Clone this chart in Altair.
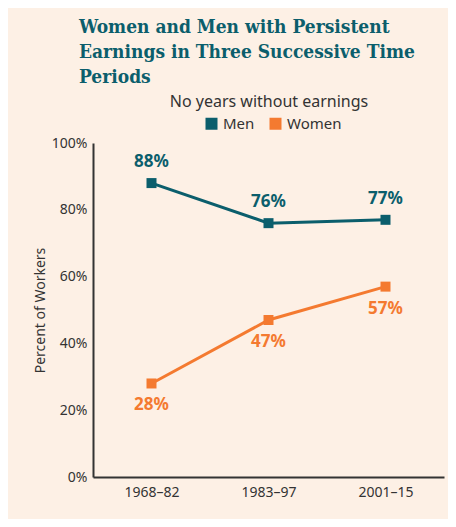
import altair as alt
import pandas as pd

periods = ["1968–82", "1983–97", "2001–15"]
men = [0.88, 0.76, 0.77]
women = [0.28, 0.47, 0.57]
series = ["Men", "Women"]
colors = ["#0b5e6c", "#f47a30"]
y_ticks = [0, 0.2, 0.4, 0.6, 0.8, 1.0]

rows = []
for p, m, w in zip(periods, men, women):
    rows.append({"period": p, "series": "Men", "value": m})
    rows.append({"period": p, "series": "Women", "value": w})
df = pd.DataFrame(rows)

FONT = "Noto Sans"
TEAL = colors[0]

x_enc = alt.X("period:N", sort=periods,
              scale=alt.Scale(type="point", padding=0.5),
              axis=alt.Axis(title=None, labelAngle=0, ticks=False, domainColor="#333",
                            domainWidth=2, labelFont=FONT, labelFontSize=14,
                            labelColor="#333", labelPadding=8, grid=False))
x_plain = alt.X("period:N", sort=periods, axis=None)
y_enc = alt.Y("value:Q", scale=alt.Scale(domain=[0, 1], nice=False),
              axis=alt.Axis(title="Percent of Workers", values=y_ticks, format=".0%",
                            ticks=False, domainColor="#333", domainWidth=2, grid=False,
                            labelFont=FONT, labelFontSize=14, labelColor="#333",
                            labelPadding=6, titleFont=FONT, titleFontSize=14,
                            titleFontWeight="normal", titleColor="#333", titlePadding=4))
color_enc = alt.Color("series:N", scale=alt.Scale(domain=series, range=colors),
                      legend=alt.Legend(title=None, orient="none", direction="horizontal",
                                        legendX=111, legendY=-27, symbolType="square",
                                        symbolSize=144, symbolStrokeWidth=0,
                                        labelFont=FONT, labelFontSize=15, labelColor="#333",
                                        labelOffset=4, columnPadding=13))

base = alt.Chart(df)

lines = base.mark_line(strokeWidth=3).encode(x=x_enc, y=y_enc, color=color_enc)
points = base.mark_square(size=100, opacity=1).encode(
    x=x_plain, y="value:Q", color=alt.Color("series:N", legend=None))

top_axis = base.mark_point(opacity=0).encode(
    x=alt.X("period:N", sort=periods,
            axis=alt.Axis(orient="top", title="No years without earnings", labels=False,
                          ticks=False, domain=False, titleFont=FONT, titleFontSize=16,
                          titleFontWeight="normal", titleColor="#333", titlePadding=34)),
    y="value:Q")

men_labels = base.transform_filter(alt.datum.series == "Men").mark_text(
    dy=-21, font=FONT, fontSize=17, fontWeight="bold").encode(
    x=x_plain, y="value:Q",
    text=alt.Text("value:Q", format=".0%"), color=alt.Color("series:N", legend=None))
women_labels = base.transform_filter(alt.datum.series == "Women").mark_text(
    dy=22, font=FONT, fontSize=17, fontWeight="bold").encode(
    x=x_plain, y="value:Q",
    text=alt.Text("value:Q", format=".0%"), color=alt.Color("series:N", legend=None))

chart = alt.layer(lines, points, men_labels, women_labels, top_axis).resolve_axis(
    x="independent").properties(
    width=351, height=334,
    autosize=alt.AutoSizeParams(type="none"),
    padding={"left": 85, "top": 135, "right": 4, "bottom": 42},
    background="#fdf0e5",
    title=alt.Title(
        text=["Women and Men with Persistent", "Earnings in Three Successive Time", "Periods"],
        anchor="start", frame="group", dx=-14, font="DejaVu Serif Condensed",
        fontSize=19, fontWeight="bold", color=TEAL, lineHeight=25, offset=6),
).configure_view(stroke=None)

chart.save("out.html", embed_options={"renderer": "svg", "actions": False})
